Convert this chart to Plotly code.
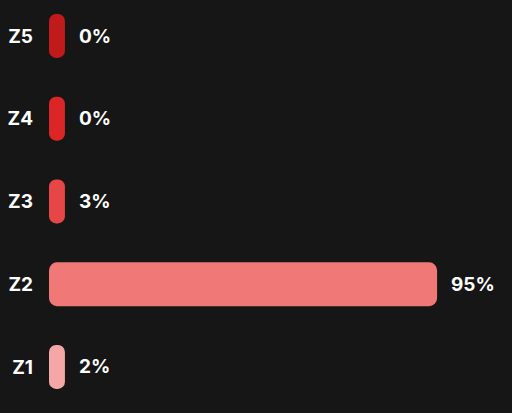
import plotly.graph_objects as go

# Zone distribution data
zones = ["Z1", "Z2", "Z3", "Z4", "Z5"]
shares = [2, 95, 3, 0, 0]
colors = ["#f4a7a6", "#f07876", "#e64646", "#dc2626", "#bf1b1b"]

# Small values are drawn as a minimum-width pill so every zone stays visible
min_visible = 3.9
bar_lengths = [max(v, min_visible) for v in shares]

bg = "#161616"
font_family = "Inter, Lato, sans-serif"
label_font = dict(family=font_family, size=19, color="#ffffff", weight="bold")

# An explicit base gives pill bars rounded at both ends
fig = go.Figure(go.Bar(
    x=bar_lengths, base=[0] * len(zones), y=zones, orientation="h", width=0.53,
    marker=dict(color=colors, cornerradius=8, line=dict(width=0)),
    hoverinfo="skip",
))

for zone, v, length in zip(zones, shares, bar_lengths):
    fig.add_annotation(
        x=length, y=zone, text=f"{v}%", showarrow=False,
        xanchor="left", yanchor="middle", xshift=12,
        font=label_font,
    )

fig.update_layout(
    width=512, height=413,
    margin=dict(l=49, r=12, t=0, b=0),
    paper_bgcolor=bg, plot_bgcolor=bg,
    showlegend=False, barmode="overlay",
    xaxis=dict(range=[0, 110.4], visible=False, fixedrange=True),
    yaxis=dict(
        type="category", categoryorder="array", categoryarray=zones,
        range=[-0.556, 4.435], showgrid=False, zeroline=False,
        showline=False, ticks="", ticklabelstandoff=15,
        tickfont=label_font, fixedrange=True,
    ),
)

fig.write_html("out.html")
